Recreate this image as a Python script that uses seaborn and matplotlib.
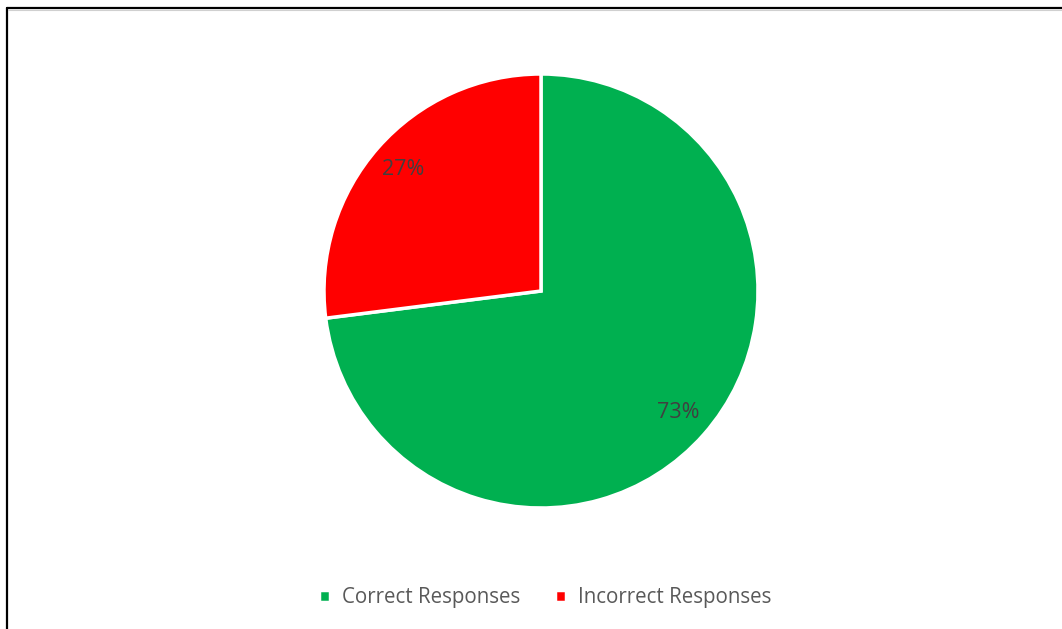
import matplotlib
matplotlib.use("Agg")
import matplotlib.pyplot as plt
from matplotlib.lines import Line2D
import seaborn as sns

# data
labels = ["Correct Responses", "Incorrect Responses"]
values = [73, 27]
colors = ["#00B050", "#FF0000"]

sns.set_theme(style="white")
plt.rcParams['font.family'] = ['Open Sans', 'DejaVu Sans']

W, H = 1062, 629
fig = plt.figure(figsize=(W / 100, H / 100), dpi=100)
fig.patch.set_facecolor("white")

# pie centre and radius in pixels
cx, cy, r = 541, 291, 217
ax = fig.add_axes([(cx - r) / W, (H - cy - r) / H, 2 * r / W, 2 * r / H])

wedges, texts, autotexts = ax.pie(
    values, colors=colors, startangle=90, counterclock=False,
    autopct=lambda p: f"{p:.0f}%", pctdistance=0.845,
    wedgeprops=dict(edgecolor="white", linewidth=2.5),
    textprops=dict(color="#404040", fontsize=15.5),
)
ax.set_xlim(-1, 1)
ax.set_ylim(-1, 1)
ax.set_aspect("equal")
ax.axis("off")

fig.legend(wedges, labels, loc="center", bbox_to_anchor=(545 / W, 1 - 598 / H),
           ncol=2, frameon=False, fontsize=14.8, labelcolor="#595959",
           handlelength=0.55, handleheight=0.55, handletextpad=0.55, columnspacing=1.7)

# chart border (left and top edges visible)
fig.add_artist(Line2D([7 / W, 7 / W], [0, 1 - 8 / H], color="black", lw=1.6,
                      transform=fig.transFigure))
fig.add_artist(Line2D([7 / W, 1], [1 - 8 / H, 1 - 8 / H], color="black", lw=1.6,
                      transform=fig.transFigure))
fig.add_artist(Line2D([8 / W, 1], [1 - 10 / H, 1 - 10 / H], color="#d0d0d0", lw=0.8,
                      transform=fig.transFigure))

fig.savefig("out.png", dpi=100)
